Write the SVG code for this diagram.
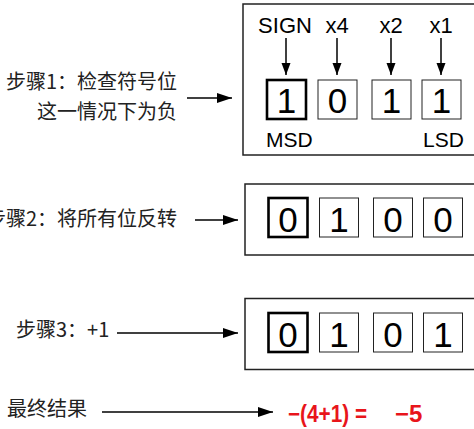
<svg xmlns="http://www.w3.org/2000/svg" width="474" height="429" viewBox="0 0 474 429">
<defs>
<style>
.lbl{font-family:"Noto Sans CJK SC","Liberation Sans",sans-serif;font-size:20px;fill:#222}
.en{font-family:"Liberation Sans",Arial,sans-serif;fill:#000}
.top{font-size:22px;text-anchor:middle}
.sd{font-size:21px}
.dg{font-size:35px;text-anchor:middle}
.frame{fill:#fff;stroke:#222;stroke-width:1.5}
.cell{fill:#fff;stroke:#222;stroke-width:1}
.msb{fill:#fff;stroke:#000;stroke-width:2.6}
.conn{stroke:#000;stroke-width:1.5;fill:none}
.res{font-family:"Liberation Sans",Arial,sans-serif;font-weight:bold;font-size:24px;fill:#e8151b}
</style>
<marker id="ah" markerUnits="userSpaceOnUse" markerWidth="16" markerHeight="11" refX="15" refY="5" orient="auto">
<path d="M0,0 L15,5 L0,10 z" fill="#000"/>
</marker>
<marker id="av" markerUnits="userSpaceOnUse" markerWidth="13" markerHeight="10" refX="12" refY="4.5" orient="auto">
<path d="M0,0 L12,4.5 L0,9 z" fill="#000"/>
</marker>
</defs>

<g id="step1-label">
<text class="lbl" x="177" y="89" text-anchor="end">步骤1：检查符号位</text>
<text class="lbl" x="177" y="119" text-anchor="end">这一情况下为负</text>
</g>
<g id="step2-label">
<text class="lbl" x="177" y="226" text-anchor="end">步骤2：将所有位反转</text>
</g>
<g id="step3-label">
<text class="lbl" x="16" y="337">步骤3：+1</text>
</g>
<g id="final-label">
<text class="lbl" x="7" y="416">最终结果</text>
</g>

<g id="box1">
<rect class="frame" x="243" y="4" width="240" height="151"/>
<text class="en top" x="285" y="33">SIGN</text>
<text class="en top" x="337" y="33">x4</text>
<text class="en top" x="391" y="33">x2</text>
<text class="en top" x="441" y="33">x1</text>
<rect class="msb" x="267" y="80" width="39" height="39"/>
<rect class="cell" x="318" y="80" width="39" height="39"/>
<rect class="cell" x="372" y="80" width="39" height="39"/>
<rect class="cell" x="422" y="80" width="39" height="39"/>
<text class="en dg" x="286.5" y="113">1</text>
<text class="en dg" x="337.5" y="113">0</text>
<text class="en dg" x="391.5" y="113">1</text>
<text class="en dg" x="441.5" y="113">1</text>
<text class="en sd" x="266" y="147">MSD</text>
<text class="en sd" x="423" y="147">LSD</text>
</g>

<g id="box2">
<rect class="frame" x="245" y="184" width="240" height="71"/>
<rect class="msb" x="268.5" y="198" width="39" height="39"/>
<rect class="cell" x="319.5" y="198" width="39" height="39"/>
<rect class="cell" x="373.5" y="198" width="39" height="39"/>
<rect class="cell" x="423.5" y="198" width="39" height="39"/>
<text class="en dg" x="288" y="231.5">0</text>
<text class="en dg" x="339" y="231.5">1</text>
<text class="en dg" x="393" y="231.5">0</text>
<text class="en dg" x="443" y="231.5">0</text>
</g>

<g id="box3">
<rect class="frame" x="245" y="298.5" width="240" height="71"/>
<rect class="msb" x="268.5" y="313" width="39" height="39"/>
<rect class="cell" x="319.5" y="313" width="39" height="39"/>
<rect class="cell" x="373.5" y="313" width="39" height="39"/>
<rect class="cell" x="423.5" y="313" width="39" height="39"/>
<text class="en dg" x="288" y="346.5">0</text>
<text class="en dg" x="339" y="346.5">1</text>
<text class="en dg" x="393" y="346.5">0</text>
<text class="en dg" x="443" y="346.5">1</text>
</g>

<g id="result">
<text class="res" x="288" y="422" textLength="79" lengthAdjust="spacingAndGlyphs">−(4+1) =</text>
<text class="res" x="395" y="422">−5</text>
</g>

<g id="connectors">
<line class="conn" x1="286" y1="38" x2="286" y2="75" marker-end="url(#av)"/>
<line class="conn" x1="337" y1="38" x2="337" y2="75" marker-end="url(#av)"/>
<line class="conn" x1="391" y1="38" x2="391" y2="75" marker-end="url(#av)"/>
<line class="conn" x1="441" y1="38" x2="441" y2="75" marker-end="url(#av)"/>
<line class="conn" x1="187" y1="98" x2="232" y2="98" marker-end="url(#ah)"/>
<line class="conn" x1="195" y1="220" x2="238" y2="220" marker-end="url(#ah)"/>
<line class="conn" x1="117" y1="333" x2="238" y2="333" marker-end="url(#ah)"/>
<line class="conn" x1="102" y1="412" x2="273" y2="412" marker-end="url(#ah)"/>
</g>
</svg>
